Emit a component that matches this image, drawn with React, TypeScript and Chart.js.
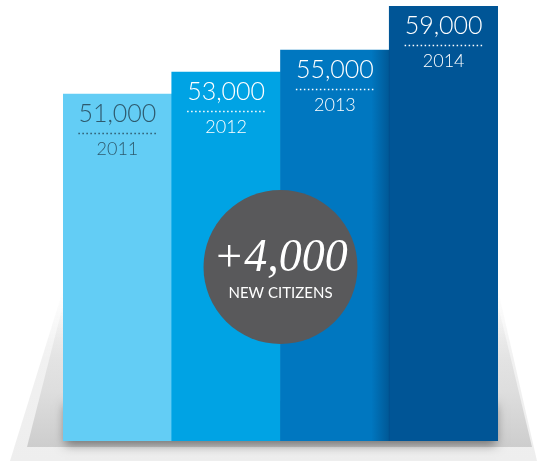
import React, { useEffect, useRef } from "react";
import { Chart, registerables } from "chart.js";

Chart.register(...registerables);

const years = ["2011", "2012", "2013", "2014"];
const citizens = [51000, 53000, 55000, 59000];
const valueLabels = ["51,000", "53,000", "55,000", "59,000"];
const growthLabel = "+4,000";
const growthCaption = "NEW CITIZENS";

const barColors = ["#63cdf5", "#00a3e4", "#0077c0", "#005596"];
const textColors = ["#2e5a6e", "#ffffff", "#ffffff", "#ffffff"];

const platformPlugin = {
  id: "platform",
  beforeDatasetsDraw(chart: any) {
    const { ctx, chartArea } = chart;
    const l = chartArea.left, r = chartArea.right, b = chartArea.bottom;
    ctx.save();
    ctx.beginPath();
    ctx.moveTo(l, 290);
    ctx.lineTo(r, 290);
    ctx.lineTo(537, 461);
    ctx.lineTo(10, 461);
    ctx.closePath();
    let g = ctx.createLinearGradient(0, 290, 0, 461);
    g.addColorStop(0, "rgba(240,240,240,0)");
    g.addColorStop(0.4, "#f1f1f1");
    g.addColorStop(1, "#eeeeee");
    ctx.fillStyle = g;
    ctx.fill();
    ctx.beginPath();
    ctx.moveTo(l, 305);
    ctx.lineTo(r, 305);
    ctx.lineTo(532, 447);
    ctx.lineTo(27, 447);
    ctx.closePath();
    g = ctx.createLinearGradient(0, 305, 0, 447);
    g.addColorStop(0, "rgba(215,215,215,0)");
    g.addColorStop(0.6, "#dedede");
    g.addColorStop(1, "#cdcdcd");
    ctx.fillStyle = g;
    ctx.fill();
    ctx.shadowColor = "rgba(0,0,0,0.45)";
    ctx.shadowBlur = 10;
    ctx.shadowOffsetY = 4;
    ctx.fillStyle = "#888";
    ctx.fillRect(l + 2, b - 40, r - l - 4, 40);
    ctx.restore();
  },
};

const labelPlugin = {
  id: "labels",
  afterDatasetsDraw(chart: any) {
    const { ctx, chartArea } = chart;
    const meta = chart.getDatasetMeta(0);
    ctx.save();
    const b3 = meta.data[2];
    const edge = b3.x + b3.width / 2;
    const g = ctx.createLinearGradient(edge - 18, 0, edge, 0);
    g.addColorStop(0, "rgba(0,30,70,0)");
    g.addColorStop(1, "rgba(0,30,70,0.35)");
    ctx.fillStyle = g;
    ctx.fillRect(edge - 18, b3.y, 18, chartArea.bottom - b3.y);

    meta.data.forEach((bar: any, i: number) => {
      const cx = bar.x;
      const top = bar.y;
      ctx.fillStyle = textColors[i];
      ctx.strokeStyle = textColors[i];
      ctx.textAlign = "center";
      ctx.textBaseline = "middle";
      ctx.font = "300 25px Lato";
      ctx.fillText(valueLabels[i], cx, top + 20);
      ctx.beginPath();
      ctx.setLineDash([1.5, 2.5]);
      ctx.lineWidth = 1.5;
      ctx.moveTo(cx - 39, top + 39.5);
      ctx.lineTo(cx + 39, top + 39.5);
      ctx.stroke();
      ctx.setLineDash([]);
      ctx.font = "300 18px Lato";
      ctx.fillText(years[i], cx, top + 55);
    });

    const x1 = chart.scales.x.getPixelForValue(1.5);
    const cy = chartArea.bottom - (chartArea.bottom - chartArea.top) * 0.4;
    ctx.beginPath();
    ctx.arc(x1, cy, 77, 0, Math.PI * 2);
    ctx.fillStyle = "#59595b";
    ctx.fill();
    ctx.fillStyle = "#ffffff";
    ctx.textAlign = "center";
    ctx.textBaseline = "middle";
    ctx.font = "italic 46px 'Liberation Serif'";
    ctx.fillText(growthLabel, x1, cy - 8);
    ctx.font = "15px Lato";
    ctx.fillText(growthCaption, x1, cy + 26);
    ctx.restore();
  },
};

export default function App() {
  const ref = useRef<HTMLCanvasElement>(null);
  useEffect(() => {
    if (!ref.current) return;
    const chart = new Chart(ref.current, {
      type: "bar",
      data: {
        labels: years,
        datasets: [
          {
            data: citizens,
            backgroundColor: barColors,
            barPercentage: 1,
            categoryPercentage: 1,
            borderWidth: 0,
          },
        ],
      },
      options: {
        responsive: false,
        animation: false,
        layout: { padding: { left: 63, right: 40, top: 6, bottom: 21 } },
        plugins: { legend: { display: false }, tooltip: { enabled: false } },
        scales: {
          x: { display: false },
          y: { display: false, min: 19500, max: 59000 },
        },
      },
      plugins: [platformPlugin, labelPlugin],
    });
    return () => chart.destroy();
  }, []);
  return (
    <div style={{ position: "absolute", left: 0, top: 0, width: 538, height: 462, background: "#fff" }}>
      <canvas ref={ref} width={538} height={462} />
    </div>
  );
}
